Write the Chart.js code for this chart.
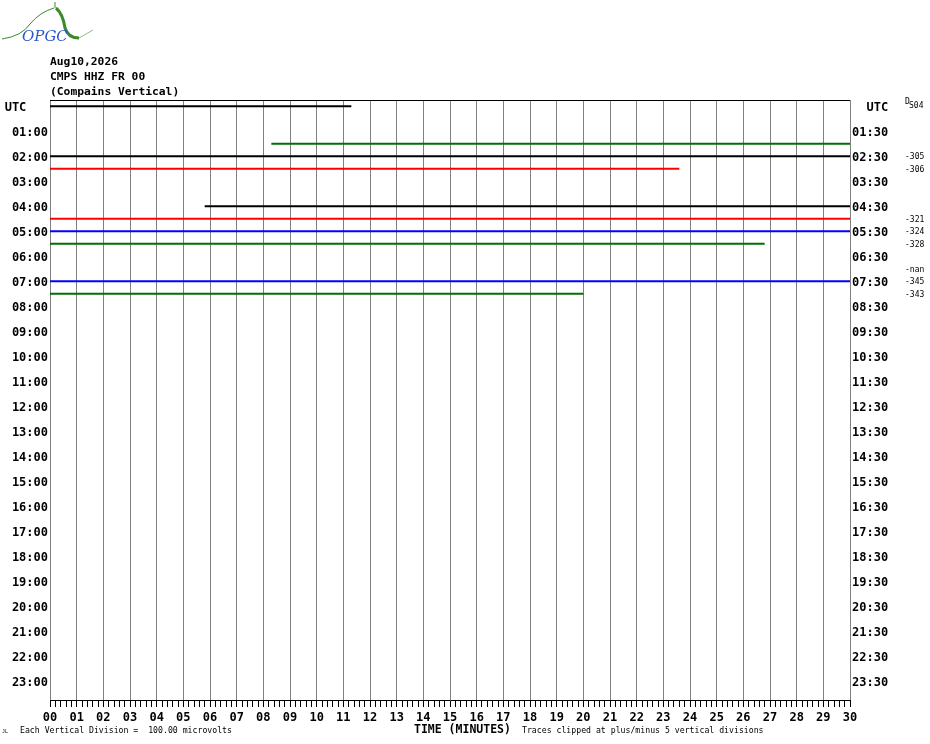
<!DOCTYPE html>
<html>
<head>
<meta charset="utf-8">
<title>CMPS HHZ FR 00 helicorder</title>
<script src="https://cdn.jsdelivr.net/npm/chart.js@4.4.1/dist/chart.umd.min.js"></script>
<style>
  html, body { margin: 0; padding: 0; background: #fff; }
  canvas { display: block; }
</style>
</head>
<body>
<canvas id="heli" width="930" height="744"></canvas>
<script>
// Row labels (one row = 30 minutes, labelled every hour)
const leftLabels = ['UTC   ', '01:00', '02:00', '03:00', '04:00', '05:00', '06:00', '07:00',
  '08:00', '09:00', '10:00', '11:00', '12:00', '13:00', '14:00', '15:00', '16:00', '17:00',
  '18:00', '19:00', '20:00', '21:00', '22:00', '23:00'];
const rightLabels = ['  UTC', '01:30', '02:30', '03:30', '04:30', '05:30', '06:30', '07:30',
  '08:30', '09:30', '10:30', '11:30', '12:30', '13:30', '14:30', '15:30', '16:30', '17:30',
  '18:30', '19:30', '20:30', '21:30', '22:30', '23:30'];
const minuteLabels = ['00', '01', '02', '03', '04', '05', '06', '07', '08', '09', '10',
  '11', '12', '13', '14', '15', '16', '17', '18', '19', '20', '21', '22', '23', '24', '25',
  '26', '27', '28', '29', '30'];

// Traces: row index, start minute, end minute
const traceRows   = [0,    3,   4,  5,    8,   9,  10, 11,   14, 15];
const traceStarts = [0,    8.3, 0,  0,    5.8, 0,  0,  0,    0,  0];
const traceEnds   = [11.3, 30,  30, 23.6, 30,  30, 30, 26.8, 30, 20.0];

// Per-row colour cycle: black, red, blue, green
const rowColors = ['#000000', '#ff0000', '#0000ff', '#006f00'];

// Small values printed at the far right
const sideRows   = [4, 5, 9, 10, 11, 13, 14, 15];
const sideValues = ['-305', '-306', '-321', '-324', '-328', '-nan', '-345', '-343'];

const MONO = '"DejaVu Sans Mono", "Liberation Mono", monospace';

const datasets = traceRows.map((row, i) => ({
  data: [{ x: traceStarts[i], y: row }, { x: traceEnds[i], y: row }],
  borderColor: rowColors[row % 4],
  borderWidth: 2,
  pointRadius: 0,
  showLine: true,
  fill: false
}));

const decor = {
  id: 'decor',
  afterDraw(chart) {
    const c = chart.ctx;
    const area = chart.chartArea;
    const ys = chart.scales.y;
    c.save();

    // top border
    c.strokeStyle = '#000';
    c.lineWidth = 1;
    c.beginPath();
    c.moveTo(area.left, area.top + 0.5);
    c.lineTo(area.right, area.top + 0.5);
    c.stroke();

    // logo
    c.strokeStyle = '#3a8a2a';
    c.lineWidth = 1;
    c.beginPath();
    c.moveTo(2, 39);
    c.quadraticCurveTo(22, 36, 30, 24);
    c.quadraticCurveTo(40, 12, 54, 8);
    c.stroke();
    c.beginPath();
    c.moveTo(55, 2);
    c.lineTo(55, 8);
    c.stroke();
    c.lineWidth = 3;
    c.beginPath();
    c.moveTo(56, 8);
    c.quadraticCurveTo(63, 14, 65, 28);
    c.quadraticCurveTo(68, 38, 79, 38);
    c.stroke();
    c.lineWidth = 1;
    c.strokeStyle = '#8cc07a';
    c.beginPath();
    c.moveTo(79, 38);
    c.lineTo(93, 30);
    c.stroke();
    c.fillStyle = '#2a55d0';
    c.font = 'italic 15px "DejaVu Serif", serif';
    c.textBaseline = 'alphabetic';
    c.fillText('OPGC', 22, 41);

    // header
    c.fillStyle = '#000';
    c.font = 'bold 11.3px ' + MONO;
    c.textBaseline = 'middle';
    c.fillText('Aug10,2026', 50, 62);
    c.fillText('CMPS HHZ FR 00', 50, 77);
    c.fillText('(Compains Vertical)', 50, 92);

    // far right values
    c.font = '8px ' + MONO;
    sideRows.forEach((row, i) => {
      c.fillText(sideValues[i], 905, ys.getPixelForValue(row) + 1);
    });
    c.fillText('D', 905, 102);
    c.fillText('S04', 909, 106);

    // footer
    c.font = '8.2px ' + MONO;
    c.fillText('Each Vertical Division =  100.00 microvolts', 20, 731);
    c.fillText('Traces clipped at plus/minus 5 vertical divisions', 522, 731);
    c.font = '5px ' + MONO;
    c.fillText('JL', 2, 732);
    c.font = 'bold 11.5px ' + MONO;
    c.fillText('TIME (MINUTES)', 414, 730);
    c.restore();
  }
};

const rowAxis = (labels, side, width) => ({
  type: 'linear',
  position: side,
  min: -0.5,
  max: 47.5,
  reverse: true,
  grid: { display: false, drawTicks: false },
  border: { display: false },
  ticks: {
    color: '#000',
    padding: 2,
    labelOffset: 2,
    font: { family: MONO, size: 12, weight: 'bold' },
    callback: v => labels[v / 2]
  },
  afterBuildTicks: s => { s.ticks = labels.map((_, i) => ({ value: i * 2 })); },
  afterFit: s => { s.width = width; }
});

new Chart(document.getElementById('heli'), {
  type: 'scatter',
  data: { datasets },
  options: {
    responsive: false,
    animation: false,
    layout: { padding: { top: 100, left: 0, right: 0, bottom: 0 } },
    plugins: { legend: { display: false }, tooltip: { enabled: false } },
    scales: {
      x: {
        type: 'linear',
        position: 'bottom',
        min: 0,
        max: 30,
        afterBuildTicks: s => {
          const t = [];
          for (let i = 0; i <= 150; i++) t.push({ value: i / 5 });
          s.ticks = t;
        },
        grid: {
          color: ctx => (ctx.index % 5 === 0 ? '#808080' : 'rgba(0,0,0,0)'),
          tickColor: '#000',
          tickLength: 7,
          lineWidth: 1
        },
        border: { display: true, color: '#000' },
        ticks: {
          autoSkip: false,
          maxRotation: 0,
          padding: 4,
          color: '#000',
          font: { family: MONO, size: 12, weight: 'bold' },
          callback: (v, i) => (i % 5 === 0 ? minuteLabels[i / 5] : '')
        },
        afterFit: s => { s.height = 44; }
      },
      y: rowAxis(leftLabels, 'left', 50),
      y2: rowAxis(rightLabels, 'right', 80)
    }
  },
  plugins: [decor]
});
</script>
</body>
</html>
